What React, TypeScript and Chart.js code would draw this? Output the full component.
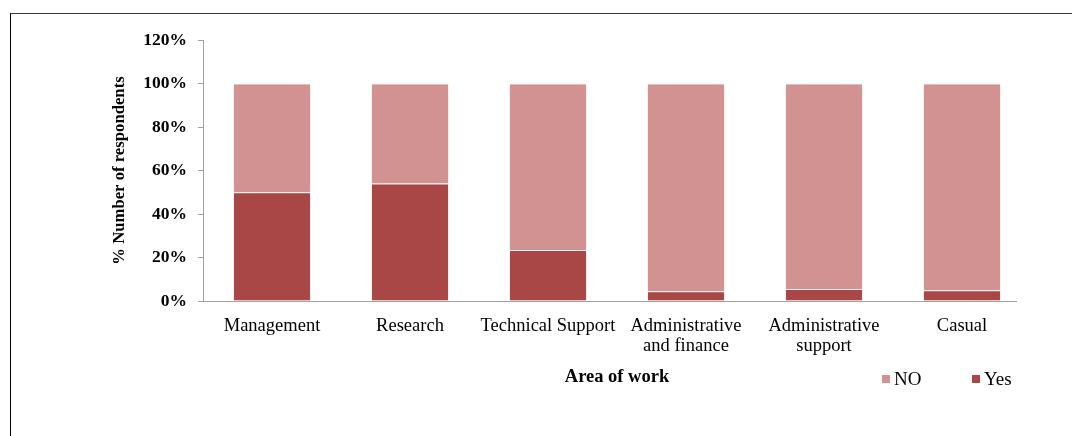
import React, { useEffect, useRef } from 'react';
import { Chart, registerables } from 'chart.js';

Chart.register(...registerables);

const categories: (string | string[])[] = [
  'Management',
  'Research',
  'Technical Support',
  ['Administrative', 'and finance'],
  ['Administrative', 'support'],
  'Casual',
];
const yesValues = [50, 54, 23.5, 4.5, 5.5, 5];
const noValues = [50, 46, 76.5, 95.5, 94.5, 95];
const seriesNames = ['Yes', 'NO'];
const seriesColors = ['#A84745', '#D39292'];
const yAxisTitle = '% Number of respondents';
const xAxisTitle = 'Area of work';
const yMax = 120;
const yStep = 20;

const FONT = "'Liberation Serif', 'Times New Roman', serif";

const shadowPlugin = {
  id: 'barShadow',
  beforeDatasetsDraw(chart: any) {
    const ctx = chart.ctx;
    ctx.save();
    ctx.shadowColor = 'rgba(0,0,0,0.16)';
    ctx.shadowBlur = 5;
  },
  afterDatasetsDraw(chart: any) {
    chart.ctx.restore();
  },
};

const axisLinePlugin = {
  id: 'xAxisLine',
  afterDatasetsDraw(chart: any) {
    const { ctx, chartArea } = chart;
    ctx.save();
    ctx.strokeStyle = '#a0a0a0';
    ctx.lineWidth = 1;
    ctx.beginPath();
    const y = Math.round(chartArea.bottom) + 0.5;
    ctx.moveTo(chartArea.left, y);
    ctx.lineTo(chartArea.right - 14, y);
    ctx.stroke();
    ctx.restore();
  },
};

const legendXs = [882, 972];

const legendPlugin = {
  id: 'customLegend',
  afterDraw(chart: any) {
    const ctx = chart.ctx;
    const ds = chart.data.datasets;
    const order = [1, 0];
    ctx.save();
    ctx.font = `19px ${FONT}`;
    ctx.textBaseline = 'middle';
    ctx.textAlign = 'left';
    order.forEach((di, i) => {
      const x = legendXs[i];
      const y = 379;
      ctx.fillStyle = ds[di].backgroundColor;
      ctx.fillRect(x, y - 4, 8, 8);
      ctx.fillStyle = '#000';
      ctx.fillText(ds[di].label, x + 12, y + 1);
    });
    ctx.restore();
  },
};

export default function App() {
  const ref = useRef<HTMLCanvasElement>(null);

  useEffect(() => {
    if (!ref.current) return;
    const chart = new Chart(ref.current, {
      type: 'bar',
      data: {
        labels: categories,
        datasets: [
          {
            label: seriesNames[0],
            data: yesValues,
            backgroundColor: seriesColors[0],
            borderColor: '#ffffff',
            borderWidth: 1,
            barPercentage: 0.565,
            categoryPercentage: 1,
          },
          {
            label: seriesNames[1],
            data: noValues,
            backgroundColor: seriesColors[1],
            borderColor: '#ffffff',
            borderWidth: 1,
            barPercentage: 0.565,
            categoryPercentage: 1,
          },
        ],
      },
      options: {
        responsive: false,
        animation: false,
        devicePixelRatio: 1,
        layout: { padding: { left: 0, top: 40, right: 41, bottom: 48 } },
        plugins: {
          legend: { display: false },
          tooltip: { enabled: false },
        },
        scales: {
          x: {
            stacked: true,
            grid: { display: false, drawTicks: false },
            border: { display: false },
            ticks: {
              color: '#000',
              padding: 15,
              maxRotation: 0,
              autoSkip: false,
              font: { family: FONT, size: 18.5, lineHeight: '20px' },
            },
            title: {
              display: true,
              text: xAxisTitle,
              color: '#000',
              padding: { top: 0, bottom: 0 },
              font: { family: FONT, size: 18.5, weight: 'bold' },
            },
            afterFit(scale: any) {
              scale.height = 87;
            },
          },
          y: {
            stacked: true,
            min: 0,
            max: yMax,
            grid: {
              display: true,
              drawOnChartArea: false,
              drawTicks: true,
              tickLength: 5,
              color: '#a0a0a0',
            },
            border: { display: true, color: '#a0a0a0', width: 1 },
            ticks: {
              stepSize: yStep,
              color: '#000',
              padding: 11,
              font: { family: FONT, size: 17.5, weight: 'bold' },
              callback: (v: any) => `${v}%`,
            },
            title: {
              display: true,
              text: yAxisTitle,
              color: '#000',
              padding: { top: 110, bottom: 0 },
              font: { family: FONT, size: 16.7, weight: 'bold' },
            },
            afterFit(scale: any) {
              scale.width = 203;
            },
          },
        },
      },
      plugins: [shadowPlugin, axisLinePlugin, legendPlugin],
    } as any);
    return () => chart.destroy();
  }, []);

  return (
    <div style={{ position: 'absolute', left: 0, top: 0, width: 1072, height: 436, background: '#fff' }}>
      <div
        style={{
          position: 'absolute',
          left: 10,
          top: 13,
          width: 1062,
          height: 423,
          borderTop: '1px solid #3c3c3c',
          borderLeft: '1px solid #000',
          boxSizing: 'border-box',
        }}
      />
      <canvas
        ref={ref}
        width={1072}
        height={436}
        style={{ position: 'absolute', left: 0, top: 0, width: 1072, height: 436 }}
      />
    </div>
  );
}
